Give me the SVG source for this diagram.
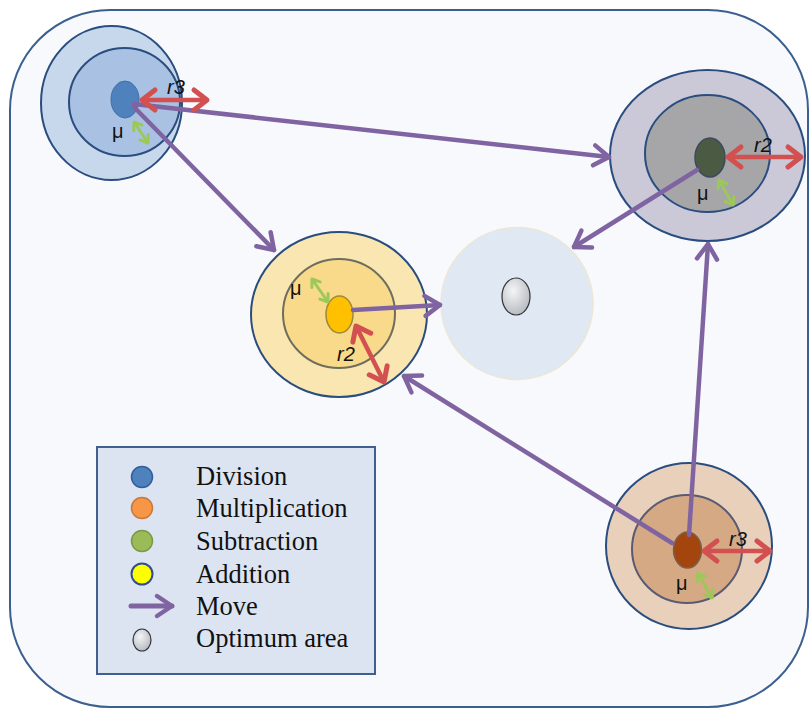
<svg xmlns="http://www.w3.org/2000/svg" width="812" height="710" viewBox="0 0 812 710">
<defs>
<style>
.lbl{font-family:"Liberation Sans","Open Sans",sans-serif;font-size:20px;fill:#111}
.it{font-style:italic}
.leg{font-family:"Liberation Serif","Times New Roman",serif;font-size:26.5px;fill:#111}
.move{stroke:#8064a2;stroke-width:4.5;fill:none;stroke-linecap:round;marker-end:url(#mv)}
.red{stroke:#d25050;stroke-width:4.5;fill:none;marker-start:url(#rh);marker-end:url(#rh)}
.grn{stroke:#9cc85a;stroke-width:3;fill:none;marker-start:url(#gh);marker-end:url(#gh)}
.ostroke{stroke:#2a4d7f;stroke-width:2}
</style>
<marker id="mv" markerUnits="userSpaceOnUse" viewBox="-20 -12 22 24" refX="0" refY="0" markerWidth="22" markerHeight="24" orient="auto" overflow="visible">
<path d="M-15 -10 L0 0 L-15 10" fill="none" stroke="#8064a2" stroke-width="4.5" stroke-linecap="round" stroke-linejoin="round"/>
</marker>
<marker id="rh" markerUnits="userSpaceOnUse" viewBox="-20 -12 22 24" refX="0" refY="0" markerWidth="22" markerHeight="24" orient="auto-start-reverse" overflow="visible">
<path d="M-13 -10 L0 0 L-13 10" fill="none" stroke="#d25050" stroke-width="5" stroke-linecap="round" stroke-linejoin="round"/>
</marker>
<marker id="gh" markerUnits="userSpaceOnUse" viewBox="-20 -12 22 24" refX="0" refY="0" markerWidth="22" markerHeight="24" orient="auto-start-reverse" overflow="visible">
<path d="M-7 -5 L0 0 L-7 5" fill="none" stroke="#9cc85a" stroke-width="3" stroke-linecap="round" stroke-linejoin="round"/>
</marker>
<radialGradient id="optg" cx="0.4" cy="0.35" r="0.7">
<stop offset="0" stop-color="#f4f5f7"/>
<stop offset="1" stop-color="#b4b8bf"/>
</radialGradient>
</defs>

<rect id="frame" x="10" y="10" width="798" height="697" rx="100" ry="100" fill="#f7f9fc" stroke="#3b5f8e" stroke-width="2"/>

<g id="node-division">
<ellipse cx="111.5" cy="103" rx="70.5" ry="77" fill="#c8d8ec" class="ostroke"/>
<ellipse cx="124.5" cy="102" rx="55.5" ry="54" fill="#a9c1e2" class="ostroke"/>
<ellipse cx="125" cy="99.5" rx="14" ry="18.5" fill="#4f81bd" stroke="#3f6fa8" stroke-width="1"/>
</g>

<g id="node-gray">
<ellipse cx="707.5" cy="155.5" rx="97.5" ry="85.5" fill="#cbc8d8" class="ostroke"/>
<ellipse cx="707.5" cy="153.5" rx="62.5" ry="58.5" fill="#a6a6a8" class="ostroke"/>
<ellipse cx="710" cy="157.5" rx="15" ry="19.5" fill="#4b5a42" stroke="#3b4a5e" stroke-width="1.5"/>
</g>

<g id="node-addition">
<ellipse cx="339" cy="314.5" rx="88" ry="82.5" fill="#fae6b0" class="ostroke"/>
<ellipse cx="339" cy="313.5" rx="56" ry="54.5" fill="#f9d98a" stroke="#6e6e5e" stroke-width="2"/>
<ellipse cx="339.5" cy="314.5" rx="13.5" ry="18.5" fill="#ffc000" stroke="#9a8a3a" stroke-width="1.5"/>
</g>

<g id="node-optimum">
<circle cx="517" cy="303.5" r="76" fill="#dfe8f3" stroke="#ece7d3" stroke-width="1.5"/>
<ellipse cx="516" cy="296.5" rx="14" ry="18.5" fill="url(#optg)" stroke="#333" stroke-width="1.2"/>
</g>

<g id="node-multiplication">
<ellipse cx="689" cy="546" rx="83" ry="83" fill="#e8d0bb" class="ostroke"/>
<ellipse cx="687" cy="549" rx="55" ry="54" fill="#d6a985" stroke="#5a5a72" stroke-width="2"/>
<ellipse cx="687.5" cy="550" rx="14" ry="18" fill="#a3450c" stroke="#7a6050" stroke-width="1.5"/>
</g>

<g id="connectors">
<line class="move" x1="134" y1="104" x2="609" y2="157"/>
<line class="move" x1="134" y1="107" x2="274" y2="250"/>
<line class="move" x1="353" y1="310" x2="440" y2="305"/>
<line class="move" x1="697" y1="170" x2="574" y2="247"/>
<line class="move" x1="689" y1="535" x2="708" y2="244"/>
<line class="move" x1="672" y1="543" x2="404" y2="376"/>
</g>

<g id="measures">
<line class="red" x1="142" y1="100" x2="207" y2="100"/>
<line class="red" x1="728" y1="157" x2="801" y2="157"/>
<line class="red" x1="356" y1="326" x2="384" y2="382"/>
<line class="red" x1="704" y1="551" x2="770" y2="551"/>
<line class="grn" x1="134" y1="122" x2="148" y2="143"/>
<line class="grn" x1="719" y1="180" x2="733" y2="205"/>
<line class="grn" x1="312" y1="279" x2="328" y2="302"/>
<line class="grn" x1="698" y1="573" x2="712" y2="598"/>
<text class="lbl it" x="167" y="94">r3</text>
<text class="lbl" x="112" y="138">μ</text>
<text class="lbl it" x="754" y="152">r2</text>
<text class="lbl" x="697" y="200">μ</text>
<text class="lbl" x="290" y="295">μ</text>
<text class="lbl it" x="337" y="361">r2</text>
<text class="lbl it" x="729" y="546">r3</text>
<text class="lbl" x="676" y="590">μ</text>
</g>

<g id="legend">
<rect x="97" y="447" width="278" height="227" fill="#dce4f2" stroke="#3f5f8f" stroke-width="2"/>
<circle cx="142" cy="477" r="10.5" fill="#4f81bd" stroke="#2f5f9a" stroke-width="1.5"/>
<circle cx="142" cy="508" r="10.5" fill="#f79646" stroke="#c8793a" stroke-width="1.5"/>
<circle cx="142" cy="541" r="10.5" fill="#9bbb59" stroke="#7a9a44" stroke-width="1.5"/>
<circle cx="142" cy="574" r="10.5" fill="#ffff00" stroke="#2f4e8e" stroke-width="2"/>
<line x1="131" y1="606" x2="172" y2="606" stroke="#8064a2" stroke-width="5" stroke-linecap="round" marker-end="url(#mv)"/>
<ellipse cx="142" cy="640" rx="9" ry="11" fill="url(#optg)" stroke="#333" stroke-width="1.2"/>
<text class="leg" x="196" y="485">Division</text>
<text class="leg" x="196" y="517">Multiplication</text>
<text class="leg" x="196" y="550">Subtraction</text>
<text class="leg" x="196" y="583">Addition</text>
<text class="leg" x="196" y="615">Move</text>
<text class="leg" x="196" y="647">Optimum area</text>
</g>
</svg>
